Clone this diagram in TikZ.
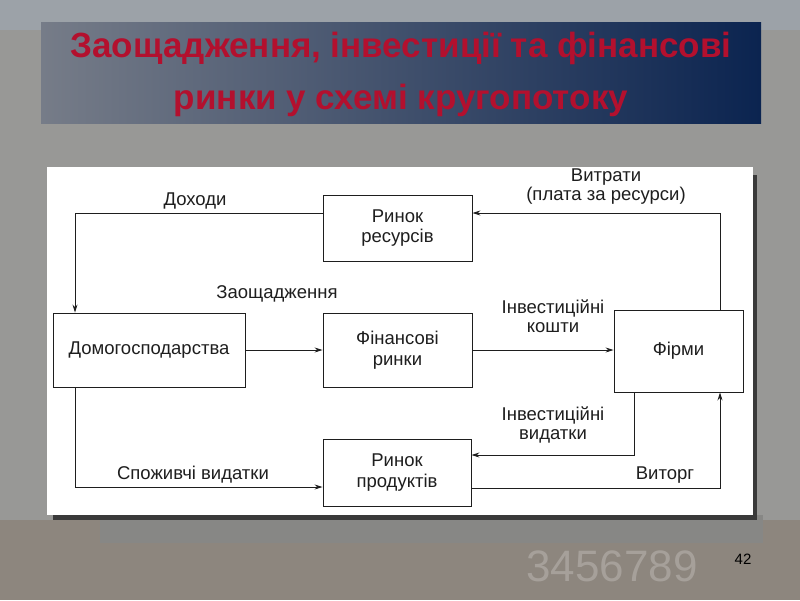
\documentclass[tikz,border=0pt]{standalone}
\usepackage{fontspec}
\setmainfont{Liberation Sans}
\usetikzlibrary{arrows.meta}
\definecolor{bgc}{HTML}{989896}
\definecolor{bgtop}{HTML}{9CA2A8}
\definecolor{bandc}{HTML}{878785}
\definecolor{shad}{HTML}{3A3A3A}
\definecolor{ttl}{HTML}{B3102E}
\definecolor{barL}{HTML}{767C88}
\definecolor{barR}{HTML}{0B2450}
\definecolor{ink}{HTML}{1E1E1E}
\tikzset{
  box/.style={draw=ink, line width=0.9pt, fill=white, align=center, inner sep=0pt,
    font=\fontsize{18.5}{20.5}\selectfont, text=ink},
  lbl/.style={align=center, font=\fontsize{18.5}{19}\selectfont, text=ink, inner sep=0pt},
  arr/.style={draw=ink, line width=0.9pt, -{Stealth[length=8pt,width=5pt]}},
  deco/.style={text=white, opacity=0.22, inner sep=0pt}
}
\begin{document}
\begin{tikzpicture}[x=1pt,y=-1pt]
\useasboundingbox (0,0) rectangle (800,600);
% background
\fill[bgc] (0,0) rectangle (800,600);
\fill[bgtop] (0,0) rectangle (800,30);
\fill[bandc!90!brown] (0,520) rectangle (800,600);
\node[deco, font=\fontsize{44}{44}\selectfont] (digits) at (612,566) {3456789};
% bottom band
\fill[bandc] (100,515) rectangle (763,543);
% title bar
\shade[left color=barL, right color=barR] (41,22) rectangle (761,123);
\node[text=ttl, font=\bfseries\fontsize{35}{35}\selectfont, inner sep=0pt] (t1) at (401,48) {Заощадження, інвестиції та фінансові};
\node[text=ttl, font=\bfseries\fontsize{35}{35}\selectfont, inner sep=0pt] (t2) at (401,100) {ринки у схемі кругопотоку};
% panel
\fill[shad] (53,175) rectangle (757,520);
\fill[white] (47,167) rectangle (753,515);
% boxes
\node[box, minimum width=149pt, minimum height=66pt] (res) at (397.5,228) {Ринок\\ресурсів};
\node[box, minimum width=192pt, minimum height=74pt] (hh) at (149,350) {Домогосподарства};
\node[box, minimum width=149pt, minimum height=74pt] (fin) at (397.5,350) {Фінансові\\ринки};
\node[box, minimum width=129pt, minimum height=82pt] (firm) at (678.5,351) {Фірми};
\node[box, minimum width=148pt, minimum height=67pt] (prod) at (397,472.5) {Ринок\\продуктів};
% corner coordinates
\coordinate (dL) at (75,213);
\coordinate (vR) at (720,213);
\coordinate (cL) at (75,487);
\coordinate (iR) at (634,455);
\coordinate (vB) at (720,488);
% connectors
\draw[arr] (res.west |- dL) -- (dL) -- (hh.north -| dL);
\draw[arr] (firm.north -| vR) -- (vR) -- (res.east |- vR);
\draw[arr] (hh.east) -- (fin.west);
\draw[arr] (fin.east) -- (firm.west |- fin.east);
\draw[arr] (hh.south -| cL) -- (cL) -- (prod.west |- cL);
\draw[arr] (firm.south -| iR) -- (iR) -- (prod.east |- iR);
\draw[arr] (prod.east |- vB) -- (vB) -- (firm.south -| vB);
% labels
\node[lbl] (l1) at (195,201) {Доходи};
\node[lbl] (l2) at (277,294) {Заощадження};
\node[lbl] (l3) at (606,187) {Витрати\\(плата за ресурси)};
\node[lbl] (l4) at (553,316) {Інвестиційні\\кошти};
\node[lbl] (l5) at (553,425) {Інвестиційні\\видатки};
\node[lbl] (l6) at (665,475) {Виторг};
\node[lbl] (l7) at (193,475) {Споживчі видатки};
\node[font=\fontsize{15}{15}\selectfont, text=black, inner sep=0pt] (pg) at (743,559) {42};
\end{tikzpicture}
\end{document}
